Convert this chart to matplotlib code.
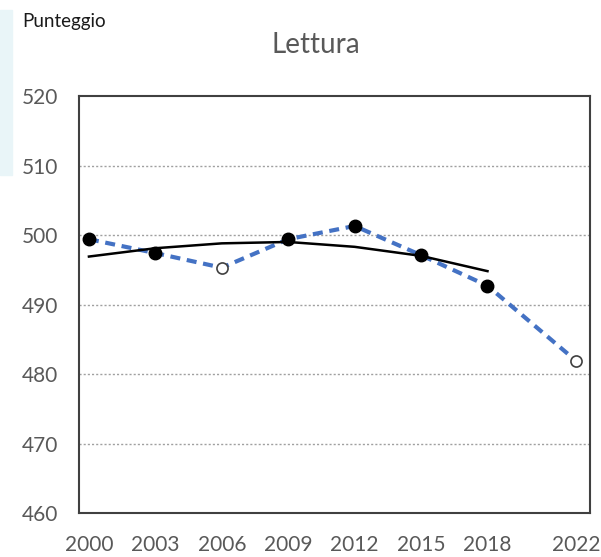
import matplotlib
matplotlib.use("Agg")
import matplotlib.pyplot as plt
from matplotlib.patches import Rectangle

# PISA reading scores
years = [2000, 2003, 2006, 2009, 2012, 2015, 2018, 2022]
scores = [499.4, 497.4, 495.3, 499.4, 501.3, 497.1, 492.7, 481.9]
# open markers for these cycles
hollow = [False, False, True, False, False, False, False, True]

trend_years = [2000, 2003, 2006, 2009, 2012, 2015, 2018]
trend_scores = [496.9, 498.1, 498.8, 499.0, 498.3, 497.0, 494.8]

year_ticks = [2000, 2003, 2006, 2009, 2012, 2015, 2018, 2022]
score_ticks = [460, 470, 480, 490, 500, 510, 520]

plt.rcParams['font.family'] = ['Lato', 'DejaVu Sans']

fig = plt.figure(figsize=(6.01, 5.57), dpi=100)
ax = fig.add_axes([0.1314, 0.079, 0.8503, 0.7486])

# faint strip on the left edge
fig.patches.append(Rectangle((0, 1 - 175 / 557), 12 / 601, 165 / 557,
                             transform=fig.transFigure, color='#e9f5f8', zorder=0))

ax.plot(trend_years, trend_scores, color='black', lw=1.8, zorder=3)
ax.plot(years, scores, color='#4472C4', lw=3, ls=(0, (2.4, 1.6)), zorder=2)
for x, y, h in zip(years, scores, hollow):
    if h:
        ax.plot(x, y, 'o', ms=8, mfc='white', mec='#404040', mew=1.2, zorder=4)
    else:
        ax.plot(x, y, 'o', ms=9, mfc='black', mec='black', zorder=4)

ax.set_xlim(1999.55, 2022.63)
ax.set_ylim(460, 520)
ax.set_xticks(year_ticks)
ax.set_yticks(score_ticks)
ax.tick_params(length=0, labelsize=15, labelcolor='#595959')
ax.tick_params(axis='y', pad=15)
ax.tick_params(axis='x', pad=16)

for v in score_ticks[1:-1]:
    ax.axhline(v, color='#a0a0a0', lw=1, ls=(0, (1.5, 1.5)), zorder=1)

for s in ax.spines.values():
    s.set_color('#404040')
    s.set_linewidth(1.5)

fig.text(0.5258, 1 - 45 / 557, 'Lettura', ha='center', va='center',
         fontsize=20, color='#595959')
fig.text(22 / 601, 1 - 22 / 557, 'Punteggio', ha='left', va='center',
         fontsize=13.5, color='#1a1a1a')

fig.savefig('out.png', dpi=100)
